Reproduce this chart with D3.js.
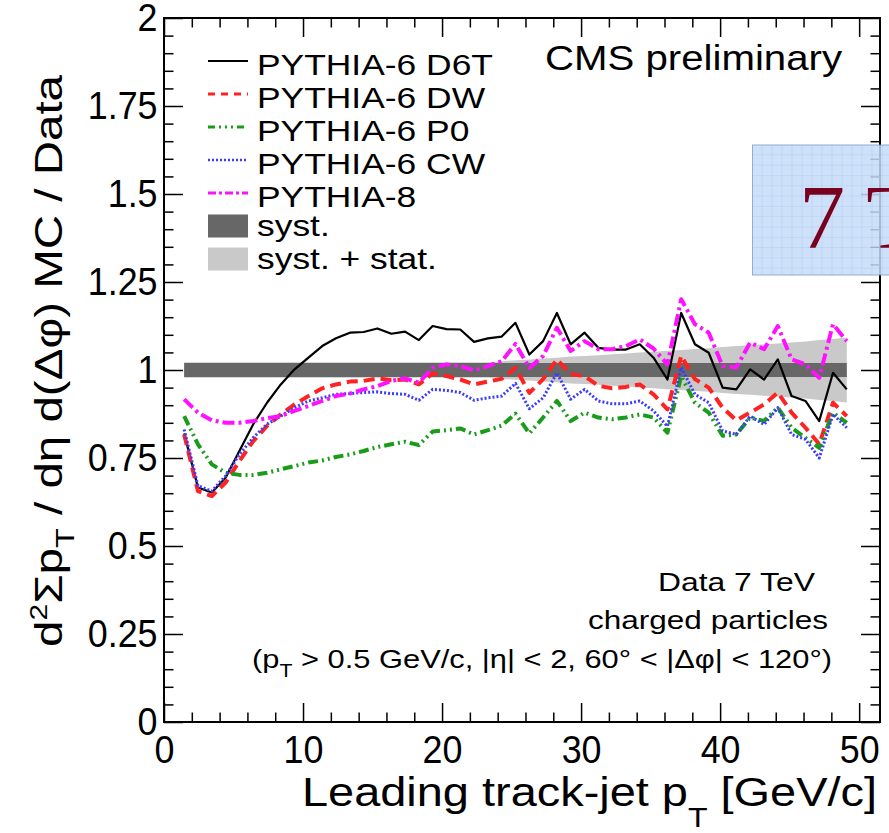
<!DOCTYPE html>
<html>
<head>
<meta charset="utf-8">
<script src="https://cdn.jsdelivr.net/npm/d3@7"></script>
<style>
  body { margin: 0; background: #fff; overflow: hidden; }
  svg { display: block; font-family: "Liberation Sans", Arial, sans-serif; }
</style>
</head>
<body>
<div id="chart"></div>
<script>
const width = 889, height = 833;

// leading track-jet pT of each point (GeV/c)
const ptBins = [1.45, 2.44, 3.44, 4.43, 5.42, 6.42, 7.41, 8.4, 9.39, 10.39,
  11.38, 12.37, 13.37, 14.36, 15.35, 16.35, 17.34, 18.33, 19.32, 20.32,
  21.31, 22.3, 23.3, 24.29, 25.28, 26.28, 27.27, 28.26, 29.25, 30.25,
  31.24, 32.23, 33.23, 34.22, 35.21, 36.21, 37.2, 38.19, 39.18, 40.18,
  41.17, 42.16, 43.16, 44.15, 45.14, 46.14, 47.13, 48.12, 49.11];

// MC / Data ratios
const d6t = [0.82, 0.666, 0.652, 0.694, 0.77, 0.846, 0.907, 0.959, 1.002, 1.035,
  1.068, 1.09, 1.106, 1.108, 1.118, 1.103, 1.109, 1.085, 1.125, 1.116,
  1.115, 1.08, 1.09, 1.095, 1.134, 1.044, 1.082, 1.162, 1.073, 1.106,
  1.063, 1.058, 1.058, 1.073, 1.035, 0.973, 1.162, 1.073, 1.049, 0.95,
  0.945, 1.002, 0.973, 1.03, 0.926, 0.912, 0.855, 0.992, 0.945];
const dw = [0.817, 0.656, 0.642, 0.68, 0.741, 0.798, 0.841, 0.874, 0.902, 0.926,
  0.948, 0.959, 0.967, 0.969, 0.976, 0.971, 0.973, 0.959, 0.99, 0.983,
  0.973, 0.959, 0.967, 0.975, 1.006, 0.935, 0.974, 1.03, 0.988, 0.983,
  0.955, 0.948, 0.952, 0.959, 0.931, 0.888, 1.04, 0.974, 0.95, 0.893,
  0.857, 0.879, 0.902, 0.936, 0.879, 0.836, 0.789, 0.907, 0.869];
const p0 = [0.869, 0.789, 0.732, 0.708, 0.702, 0.702, 0.708, 0.718, 0.727, 0.737,
  0.743, 0.753, 0.76, 0.77, 0.781, 0.789, 0.796, 0.787, 0.825, 0.829,
  0.834, 0.817, 0.829, 0.842, 0.876, 0.82, 0.865, 0.912, 0.855, 0.879,
  0.865, 0.86, 0.865, 0.874, 0.865, 0.822, 0.983, 0.907, 0.879, 0.813,
  0.817, 0.865, 0.855, 0.893, 0.836, 0.807, 0.779, 0.879, 0.85];
const cw = [0.831, 0.671, 0.656, 0.699, 0.76, 0.808, 0.846, 0.869, 0.893, 0.912,
  0.921, 0.931, 0.933, 0.936, 0.938, 0.933, 0.931, 0.914, 0.945, 0.942,
  0.936, 0.914, 0.921, 0.926, 0.962, 0.89, 0.921, 0.992, 0.917, 0.945,
  0.912, 0.904, 0.904, 0.912, 0.884, 0.84, 1.007, 0.931, 0.907, 0.827,
  0.817, 0.869, 0.845, 0.893, 0.817, 0.803, 0.75, 0.874, 0.836];
const py8 = [0.917, 0.879, 0.857, 0.85, 0.85, 0.855, 0.863, 0.869, 0.884, 0.898,
  0.912, 0.926, 0.933, 0.945, 0.954, 0.969, 0.976, 0.964, 1.006, 1.016,
  1.011, 0.999, 1.011, 1.025, 1.074, 1.006, 1.04, 1.12, 1.054, 1.082,
  1.059, 1.059, 1.068, 1.087, 1.061, 1.016, 1.201, 1.13, 1.106, 1.011,
  1.007, 1.078, 1.059, 1.125, 1.03, 1.016, 0.978, 1.13, 1.082];

// uncertainty bands around 1
const systHalf = 0.02;
const totalHalf = [0.022, 0.022, 0.022, 0.022, 0.022, 0.022, 0.022, 0.022, 0.022, 0.022,
  0.022, 0.022, 0.022, 0.022, 0.022, 0.022, 0.022, 0.022, 0.022, 0.022,
  0.022, 0.022, 0.022, 0.025, 0.028, 0.03, 0.033, 0.035, 0.038, 0.04,
  0.042, 0.045, 0.047, 0.05, 0.052, 0.055, 0.057, 0.06, 0.062, 0.065,
  0.068, 0.07, 0.073, 0.075, 0.078, 0.081, 0.085, 0.088, 0.092];

const xTicks = [0, 10, 20, 30, 40, 50];
const xMinorTicks = [2, 4, 6, 8, 12, 14, 16, 18, 22, 24, 26, 28, 32, 34, 36, 38, 42, 44, 46, 48];
const yTicks = [0, 0.25, 0.5, 0.75, 1, 1.25, 1.5, 1.75, 2];
const yTickLabels = ["0", "0.25", "0.5", "0.75", "1", "1.25", "1.5", "1.75", "2"];
const yMinorTicks = d3.range(1, 40).map(i => i * 0.05).filter(v => Math.abs(v * 4 - Math.round(v * 4)) > 1e-6);

const series = [
  { name: "PYTHIA-6 D6T", values: d6t, color: "#000000", width: 2.2, dash: null, legendDash: null },
  { name: "PYTHIA-6 DW", values: dw, color: "#ff2222", width: 4, dash: "11,6", legendDash: "7,6" },
  { name: "PYTHIA-6 P0", values: p0, color: "#1a9c1a", width: 4, dash: "10,4,2,4,2,4", legendDash: "7,4,2,4,2,4,2,4" },
  { name: "PYTHIA-6 CW", values: cw, color: "#3b3bff", width: 3, dash: "2,2", legendDash: "2,2" },
  { name: "PYTHIA-8", values: py8, color: "#ff11ff", width: 4, dash: "12,4,3,4", legendDash: "8,3,3,3" }
];

const x = d3.scaleLinear().domain([0, 51.5]).range([164, 880]);
const y = d3.scaleLinear().domain([0, 2]).range([722, 18]);

const svg = d3.select("#chart")
  .append("svg")
  .attr("width", width)
  .attr("height", height)
  .attr("viewBox", `0 0 ${width} ${height}`);

// bands
const totalArea = d3.area()
  .x((d, i) => x(ptBins[i]))
  .y0((d, i) => y(1 - totalHalf[i]))
  .y1((d, i) => y(1 + totalHalf[i]));
svg.append("path")
  .datum(ptBins)
  .attr("d", totalArea)
  .attr("fill", "#c9c9c9");

const systArea = d3.area()
  .x(d => x(d))
  .y0(y(1 - systHalf))
  .y1(y(1 + systHalf));
svg.append("path")
  .datum(ptBins)
  .attr("d", systArea)
  .attr("fill", "#676767");

// MC curves
const line = d3.line()
  .x((d, i) => x(ptBins[i]))
  .y(d => y(d));

series.forEach(s => {
  svg.append("path")
    .datum(s.values)
    .attr("d", line)
    .attr("fill", "none")
    .attr("stroke", s.color)
    .attr("stroke-width", s.width)
    .attr("stroke-dasharray", s.dash)
    .attr("stroke-linejoin", "round");
});

// axes, ROOT style: ticks inside the frame on all four sides
function styleTicks(g) {
  g.select(".domain").remove();
  g.selectAll(".tick line").attr("stroke", "#000").attr("stroke-width", 1.5);
}

function tickLabels(g) {
  g.attr("font-size", 39).attr("font-family", null);
  g.selectAll(".tick text").attr("fill", "#000").attr("transform", "scale(0.92,1)");
}

svg.append("g")
  .attr("transform", `translate(0,${y(0)})`)
  .call(d3.axisBottom(x).tickValues(xTicks).tickSize(-19).tickPadding(13).tickFormat(d3.format("d")))
  .call(styleTicks).call(tickLabels);
svg.append("g")
  .attr("transform", `translate(0,${y(0)})`)
  .call(d3.axisBottom(x).tickValues(xMinorTicks).tickSize(-9.5).tickFormat(""))
  .call(styleTicks);
svg.append("g")
  .attr("transform", `translate(0,${y(2)})`)
  .call(d3.axisTop(x).tickValues(xTicks).tickSize(-19).tickFormat(""))
  .call(styleTicks);
svg.append("g")
  .attr("transform", `translate(0,${y(2)})`)
  .call(d3.axisTop(x).tickValues(xMinorTicks).tickSize(-9.5).tickFormat(""))
  .call(styleTicks);

svg.append("g")
  .attr("transform", `translate(${x(0)},0)`)
  .call(d3.axisLeft(y).tickValues(yTicks).tickSize(-19).tickPadding(7).tickFormat((d, i) => yTickLabels[i]))
  .call(styleTicks).call(tickLabels);
svg.append("g")
  .attr("transform", `translate(${x(0)},0)`)
  .call(d3.axisLeft(y).tickValues(yMinorTicks).tickSize(-9.5).tickFormat(""))
  .call(styleTicks);
svg.append("g")
  .attr("transform", `translate(${x(51.5)},0)`)
  .call(d3.axisRight(y).tickValues(yTicks).tickSize(-19).tickFormat(""))
  .call(styleTicks);
svg.append("g")
  .attr("transform", `translate(${x(51.5)},0)`)
  .call(d3.axisRight(y).tickValues(yMinorTicks).tickSize(-9.5).tickFormat(""))
  .call(styleTicks);

// frame
svg.append("rect")
  .attr("x", x(0))
  .attr("y", y(2))
  .attr("width", x(51.5) - x(0))
  .attr("height", y(0) - y(2))
  .attr("fill", "none")
  .attr("stroke", "#000")
  .attr("stroke-width", 2);

// legend
const legend = svg.append("g");
series.forEach((s, i) => {
  const cy = 61 + i * 33;
  legend.append("line")
    .attr("x1", 208).attr("x2", 248)
    .attr("y1", cy).attr("y2", cy)
    .attr("stroke", s.color)
    .attr("stroke-width", s.width * 0.8)
    .attr("stroke-dasharray", s.legendDash);
  legend.append("text")
    .attr("transform", `translate(257,${cy + 13.5}) scale(1.18,1)`)
    .attr("font-size", 30)
    .text(s.name);
});
[["syst.", "#676767"], ["syst. + stat.", "#c9c9c9"]].forEach((b, i) => {
  const cy = 61 + (5 + i) * 33;
  legend.append("rect")
    .attr("x", 208).attr("y", cy - 11.5)
    .attr("width", 40).attr("height", 23)
    .attr("fill", b[1]);
  legend.append("text")
    .attr("transform", `translate(257,${cy + 10}) scale(1.18,1)`)
    .attr("font-size", 30)
    .text(b[0]);
});

// labels
svg.append("text")
  .attr("x", 545).attr("y", 70)
  .attr("font-size", 34.5)
  .attr("textLength", 297).attr("lengthAdjust", "spacingAndGlyphs")
  .text("CMS preliminary");

svg.append("text")
  .attr("x", 658).attr("y", 591)
  .attr("font-size", 26)
  .attr("textLength", 157).attr("lengthAdjust", "spacingAndGlyphs")
  .text("Data 7 TeV");
svg.append("text")
  .attr("x", 588).attr("y", 629)
  .attr("font-size", 26)
  .attr("textLength", 240).attr("lengthAdjust", "spacingAndGlyphs")
  .text("charged particles");
const cuts = svg.append("text")
  .attr("x", 252).attr("y", 668)
  .attr("font-size", 26)
  .attr("textLength", 580).attr("lengthAdjust", "spacingAndGlyphs");
cuts.append("tspan").text("(p");
cuts.append("tspan").attr("font-size", 18).attr("dy", 9).text("T");
cuts.append("tspan").attr("dy", -9).text(" > 0.5 GeV/c, |\u03b7| < 2, 60\u00b0 < |\u0394\u03c6| < 120\u00b0)");

// x axis title
const xTitle = svg.append("text")
  .attr("x", 302).attr("y", 806)
  .attr("font-size", 41)
  .attr("textLength", 575).attr("lengthAdjust", "spacingAndGlyphs");
xTitle.append("tspan").text("Leading track-jet p");
xTitle.append("tspan").attr("font-size", 28).attr("dy", 21).text("T");
xTitle.append("tspan").attr("dy", -21).text(" [GeV/c]");

// y axis title
const yTitle = svg.append("text")
  .attr("transform", "translate(62,361) rotate(-90)")
  .attr("text-anchor", "middle")
  .attr("font-size", 38)
  .attr("textLength", 572).attr("lengthAdjust", "spacingAndGlyphs");
yTitle.append("tspan").text("d");
yTitle.append("tspan").attr("font-size", 24).attr("dy", -15).text("2");
yTitle.append("tspan").attr("dy", 15).text("\u03a3p");
yTitle.append("tspan").attr("font-size", 26).attr("dy", 12).text("T");
yTitle.append("tspan").attr("dy", -12).text(" / d\u03b7 d(\u0394\u03c6)  MC / Data");

// pasted "7 TeV" sticker on the right edge
const defs = svg.append("defs");
const pat = defs.append("pattern")
  .attr("id", "grid")
  .attr("patternUnits", "userSpaceOnUse")
  .attr("x", 752.5).attr("y", 145)
  .attr("width", 10).attr("height", 10.3);
pat.append("rect").attr("width", 10).attr("height", 10.3).attr("fill", "#c6dcf8");
pat.append("path")
  .attr("d", "M10,0V10.3M0,10.3H10")
  .attr("stroke", "#9cc6f2")
  .attr("stroke-width", 1);

const sticker = svg.append("g").attr("opacity", 0.85);
sticker.append("rect")
  .attr("x", 752.5).attr("y", 145)
  .attr("width", 160).attr("height", 130)
  .attr("fill", "url(#grid)")
  .attr("stroke", "#7f9fc8")
  .attr("stroke-width", 1);
svg.append("text")
  .attr("x", 799).attr("y", 248)
  .attr("font-family", "'Liberation Serif', 'Times New Roman', serif")
  .attr("font-size", 92)
  .attr("fill", "#7a0020")
  .text("7 TeV");
</script>
</body>
</html>
